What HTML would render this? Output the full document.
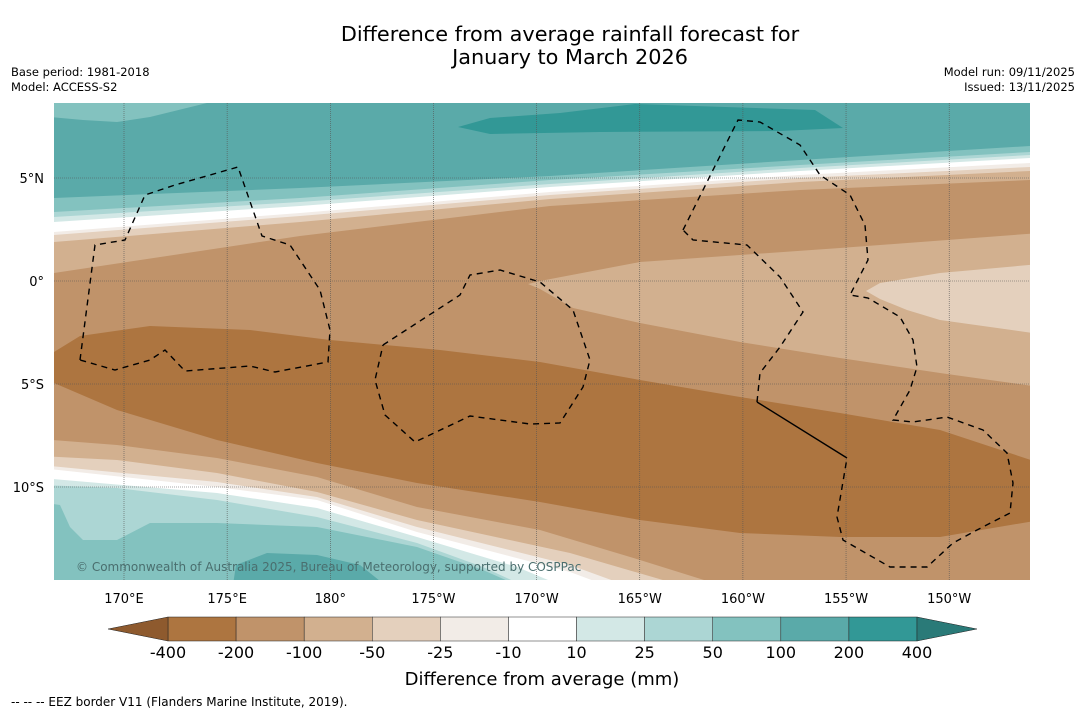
<!DOCTYPE html>
<html><head><meta charset="utf-8"><style>
body{margin:0;background:#fff;width:1085px;height:713px;overflow:hidden;font-family:"Liberation Sans","DejaVu Sans",sans-serif}
</style></head><body>
<svg id="s" width="1085" height="713" xmlns="http://www.w3.org/2000/svg" font-family="DejaVu Sans, Liberation Sans, sans-serif">
<text x="570" y="41" font-size="20.8" text-anchor="middle">Difference from average rainfall forecast for</text>
<text x="570" y="64" font-size="20.8" text-anchor="middle">January to March 2026</text>
<text x="11" y="76" font-size="11.5">Base period: 1981-2018</text>
<text x="11" y="91" font-size="11.5">Model: ACCESS-S2</text>
<text x="1075" y="76" font-size="11.5" text-anchor="end">Model run: 09/11/2025</text>
<text x="1075" y="91" font-size="11.5" text-anchor="end">Issued: 13/11/2025</text>
<defs><clipPath id="mc"><rect x="54" y="103" width="976" height="477"/></clipPath></defs>
<g id="map" clip-path="url(#mc)"></g>
<g id="ax"></g>
<g id="cb"></g>
<text x="542" y="685" font-size="18" text-anchor="middle">Difference from average (mm)</text>
<text x="11" y="706" font-size="12">--  --  -- EEZ border V11 (Flanders Marine Institute, 2019).</text>
</svg>
<script>
const levels=["-400","-200","-100","-50","-25","-10","10","25","50","100","200","400"];
const colors=["#ad7540","#c0936a","#d2b08f","#e4d0bd","#f2ece7","#ffffff","#d3e8e6","#acd6d4","#83c2bf","#5aaaa9","#329896"];
const lonLabels=["170°E","175°E","180°","175°W","170°W","165°W","160°W","155°W","150°W"];
const lonValues=[170,175,180,185,190,195,200,205,210];
const latLabels=["5°N","0°","5°S","10°S"];
const latValues=[5,0,-5,-10];
const NS="http://www.w3.org/2000/svg";
const X=lon=>124+(lon-170)*20.63, Y=lat=>281-lat*20.6;
const map=document.getElementById('map'),ax=document.getElementById('ax'),cb=document.getElementById('cb');
function el(p,tag,a){const e=document.createElementNS(NS,tag);for(const k in a)e.setAttribute(k,a[k]);p.appendChild(e);return e;}
function pts(a){return a.map(p=>p.join(',')).join(' ');}
function poly(fill,a,name){const e=el(map,'polygon',{points:pts(a),fill:fill});

return e;}
el(map,'rect',{x:54,y:103,width:976,height:477,fill:"#5aaaa9"});
poly("#83c2bf",[[50,102],[50,117],[83,120],[117,122],[150,117],[207,103]],'contour-nw-50');
poly("#329896",[[458,127],[490,118],[560,113],[635,104],[815,110],[843,128],[780,131],[600,132],[490,134]],'contour-n-200');
const north=[[198,188,176,160,146,"#83c2bf"],[212,198,180,165,152,"#acd6d4"],[217,202,184,168,155,"#d3e8e6"],[222,206,187,171,158,"#ffffff"],[232,213,192,175,163,"#f2ece7"],[235,216,195,178,167,"#e4d0bd"],[242,222,199,182,171,"#d2b08f"],[273,236,206,190,180,"#c0936a"]];
const xs=[54,300,550,800,1030];
north.forEach((b,i)=>{const a=xs.map((x,j)=>[x,b[j]]);a.unshift([40,b[0]]);a.push([1040,b[4]]);a.push([1040,590],[40,590]);poly(b[5],a,'north-band-'+i);});
poly("#d2b08f",[[528,284],[540,281],[640,262],[740,255],[840,248],[1040,233],[1040,387],[940,373],[840,358],[740,342],[640,323],[573,308],[540,289]],'contour-east-50');
poly("#e4d0bd",[[866,291],[880,283],[940,273],[1040,264],[1040,334],[940,320],[907,310],[880,299]],'contour-east-25');
poly("#ad7540",[[45,365],[54,352],[80,336],[150,326],[250,330],[330,340],[440,350],[540,362],[640,380],[740,397],[840,413],[940,430],[1040,463],[1040,520],[940,537],[840,537],[740,533],[640,520],[540,502],[417,483],[317,463],[217,440],[117,410],[54,383]],'contour-core-200');
const south=[
 [[[40,439],[117,445],[217,458],[317,477],[417,507],[540,530],[640,560],[720,585]],"#d2b08f"],
 [[[40,456],[117,460],[217,473],[317,492],[417,520],[570,553],[680,585]],"#e4d0bd"],
 [[[40,465],[217,482],[317,497],[417,527],[570,565],[625,585]],"#f2ece7"],
 [[[40,468],[217,487],[317,500],[417,532],[570,572],[605,585]],"#ffffff"],
 [[[40,478],[217,493],[317,508],[417,537],[517,567],[560,585]],"#d3e8e6"],
 [[[40,485],[117,488],[217,500],[317,517],[417,543],[483,567],[522,585]],"#acd6d4"],
 [[[40,502],[60,505],[70,527],[83,540],[117,540],[150,523],[217,523],[317,527],[417,547],[483,570],[517,585]],"#83c2bf"],
 [[[233,585],[236,565],[267,553],[317,555],[360,565],[385,585]],"#5aaaa9"]];
south.forEach((s,i)=>{const a=s[0].slice();if(i<7)a.push([40,590]);poly(s[1],a,'south-band-'+i);});
lonValues.forEach((v,i)=>{const l=el(map,'line',{x1:X(v),x2:X(v),y1:103,y2:580,stroke:"#555",'stroke-width':0.6,'stroke-dasharray':"1,1"});


const t=el(ax,'text',{x:X(v),y:603,'font-size':13,'text-anchor':'middle'});t.textContent=lonLabels[i];

});
latValues.forEach((v,i)=>{const l=el(map,'line',{x1:54,x2:1030,y1:Y(v),y2:Y(v),stroke:"#555",'stroke-width':0.6,'stroke-dasharray':"1,1"});


const t=el(ax,'text',{x:44,y:Y(v)+5,'font-size':13,'text-anchor':'end'});t.textContent=latLabels[i];

});
const eez=[
 [[80,360],[95,245],[125,240],[145,195],[175,185],[238,167],[262,236],[290,245],[320,290],[330,330],[328,362],[275,372],[250,366],[185,371],[165,350],[150,360],[115,370],[80,360]],
 [[383,345],[460,295],[470,275],[500,270],[540,282],[573,310],[590,360],[583,387],[560,423],[530,424],[470,416],[415,442],[385,415],[375,380],[383,345]],
 [[683,230],[738,120],[760,122],[800,145],[820,175],[850,195],[865,225],[868,260],[850,295],[868,298],[900,317],[913,340],[917,367],[910,390],[893,420],[913,422],[947,417],[983,430],[1007,453],[1013,483],[1010,513],[977,530],[953,543],[927,567],[890,567],[843,540],[837,517],[847,458]],
 [[847,458],[757,402]],
 [[757,402],[760,373],[780,347],[803,312],[780,277],[747,245],[693,240],[683,230]]];
eez.forEach((p,i)=>{const e=el(map,'polyline',{points:pts(p),fill:'none',stroke:'#000','stroke-width':1.4,'stroke-dasharray':i==3?'none':'6,5'});

});
const c=el(map,'text',{x:76,y:571,'font-size':12,fill:'#4a6e6e'});c.textContent="© Commonwealth of Australia 2025, Bureau of Meteorology, supported by COSPPac";


const x0=168,x1=917,w=(x1-x0)/colors.length;
colors.forEach((col,i)=>{const r=el(cb,'rect',{x:x0+i*w,y:617,width:w,height:24,fill:col,stroke:'#222','stroke-width':0.5});

});
const tl=el(cb,'polygon',{points:"108,629 168,617 168,641",fill:"#8e5a2e",stroke:'#222','stroke-width':0.5});


const tr=el(cb,'polygon',{points:"977,629 917,617 917,641",fill:"#2a7a78",stroke:'#222','stroke-width':0.5});


levels.forEach((lv,i)=>{const t=el(cb,'text',{x:x0+i*w,y:658,'font-size':16,'text-anchor':'middle'});t.textContent=lv;

});
</script>
</body></html>
